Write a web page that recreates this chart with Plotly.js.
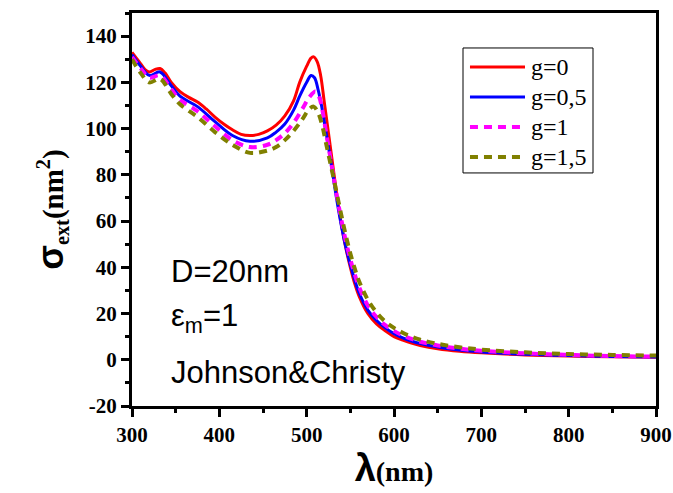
<!DOCTYPE html>
<html>
<head>
<meta charset="utf-8">
<script src="https://cdn.plot.ly/plotly-3.0.1.min.js"></script>
<style>html,body{margin:0;padding:0;background:#fff;}#chart{width:673px;height:493px;}</style>
</head>
<body>
<div id="chart"></div>
<script>
// Wavelengths (nm) and extinction cross sections (nm^2)
const lam0 = [300,305,310,315,320,326,332,338,345,355,365,375,385,395,405,415,425,435,445,455,465,475,485,492,500,505,508,512,516,520,525,530,535,540,545,550,555,560,570,580,590,600,610,620,630,650,675,700,750,800,850,900];
const g0   = [133,130.5,128,125.5,124.5,125.5,126,124,120,116,113.5,111.5,108.5,105,102,99.5,97.5,97,97.5,99,101.5,105.5,112,120,127,130.5,131,129,123,112,98,84,70,58,48,40,33,27.5,20,15.5,12.5,10,8.5,7.2,6.2,4.8,3.7,3,2.1,1.6,1.3,1.1];

const lam05 = [300,310,320,332,345,355,375,395,415,435,455,465,475,485,492,500,505,509,513,517,521,525,530,535,540,545,550,555,560,570,580,590,600,610,620,630,650,675,700,750,800,850,900];
const g05   = [132,127,123,124.5,118.5,114,109.5,103,97,94.5,96,98.5,102,108,114,120,123,122,117,110,101,92,80,68,57.5,48.5,41,34.5,29,21.5,17,13.8,11.3,9.5,8.1,7,5.5,4.2,3.4,2.4,1.8,1.4,1.2];

const lam1 = [300,310,320,332,345,355,375,395,415,435,455,465,475,485,495,503,510,514,518,522,526,530,535,540,545,550,555,560,570,580,590,600,610,620,630,650,675,700,750,800,850,900];
const g1   = [131,126,122,123,117,112.5,107.5,101,95,92,93,95,98,102.5,108.5,113.5,116,114,108,99,90,81,70,60,51,43.5,37,31.5,23.5,18.5,15,12.5,10.5,9,7.8,6.2,4.8,3.9,2.8,2.1,1.6,1.4];

const lam15 = [300,310,320,332,345,355,375,395,415,435,455,465,475,485,495,503,508,513,518,522,526,530,535,540,545,550,555,560,570,580,590,600,610,620,630,650,675,700,750,800,850,900];
const g15   = [130,124,120,121.5,115,110.5,105,98.5,93,89.5,90.5,92,95,99,104,108.5,109.5,107,101,94,87,80,71,62,53.5,46,39.5,34,26,20.5,16.5,13.8,11.7,10,8.7,6.9,5.4,4.4,3.2,2.5,2.1,1.8];

const names = ["g=0","g=0,5","g=1","g=1,5"];
const colors = ["#ff0000","#0000ff","#ff00ff","#808000"];

const xTicks = [300,400,500,600,700,800,900];
const yTicks = [-20,0,20,40,60,80,100,120,140];

const serif = "Liberation Serif";
const sans = "Liberation Sans";

const styles = [
  {color: colors[0], width: 3},
  {color: colors[1], width: 3},
  {color: colors[2], width: 4, dash: "8px,6px"},
  {color: colors[3], width: 4, dash: "8px,6px"}
];
const xs = [lam0, lam05, lam1, lam15];
const ys = [g0, g05, g1, g15];

const traces = xs.map((x, i) => ({
  x: x, y: ys[i], name: names[i], mode: "lines",
  line: Object.assign({shape: "spline"}, styles[i])
}));

// Legend drawn in paper coordinates (box, samples, labels)
const legRows = [0.8626, 0.7863, 0.7099, 0.6336];
const shapes = [
  {type: "rect", xref: "paper", yref: "paper", x0: 0.6317, x1: 0.8798, y0: 0.593, y1: 0.911,
   line: {color: "#000", width: 1}, fillcolor: "#fff", layer: "above"}
];
const annotations = [];
names.forEach((n, i) => {
  shapes.push({type: "line", xref: "paper", yref: "paper", x0: 0.645, x1: 0.750, y0: legRows[i], y1: legRows[i],
    line: {color: styles[i].color, width: styles[i].width, dash: styles[i].dash || "solid"}, layer: "above"});
  annotations.push({xref: "paper", yref: "paper", x: 0.757, y: legRows[i], xanchor: "left", yanchor: "middle",
    showarrow: false, text: n, font: {family: serif, size: 24, color: "#000"}});
});

annotations.push(
  {xref: "paper", yref: "paper", x: 0.07, y: 0.341, xanchor: "left", yanchor: "middle", showarrow: false, text: "D=20nm", font: {family: sans, size: 31, color: "#000"}},
  {xref: "paper", yref: "paper", x: 0.07, y: 0.224, xanchor: "left", yanchor: "middle", showarrow: false, text: "ε<sub>m</sub>=1", font: {family: sans, size: 31, color: "#000"}},
  {xref: "paper", yref: "paper", x: 0.07, y: 0.0865, xanchor: "left", yanchor: "middle", showarrow: false, text: "Johnson&Christy", font: {family: sans, size: 31, color: "#000"}}
);

const layout = {
  width: 673, height: 493,
  margin: {l: 132, r: 17, t: 13, b: 87},
  paper_bgcolor: "#fff", plot_bgcolor: "#fff",
  showlegend: false,
  xaxis: {
    range: [300, 900], tickvals: xTicks, ticktext: xTicks.map(v => "<b>" + v + "</b>"),
    showgrid: false, zeroline: false,
    showline: true, linecolor: "#000", linewidth: 3, mirror: true,
    ticks: "outside", ticklen: 8, tickwidth: 3, tickcolor: "#000",
    minor: {dtick: 50, ticks: "outside", ticklen: 4, tickwidth: 3, tickcolor: "#000", showgrid: false},
    tickfont: {family: serif, size: 21, color: "#000"},
    title: {text: "<b><span style=\"font-family:'Liberation Sans';font-size:38px\">λ</span>(nm)</b>", font: {family: serif, size: 28, color: "#000"}, standoff: 12}
  },
  yaxis: {
    range: [-20, 150], tickvals: yTicks, ticktext: yTicks.map(v => "<b>" + v + "</b>"),
    showgrid: false, zeroline: false,
    showline: true, linecolor: "#000", linewidth: 3, mirror: true,
    ticks: "outside", ticklen: 8, tickwidth: 3, tickcolor: "#000",
    minor: {dtick: 10, ticks: "outside", ticklen: 4, tickwidth: 3, tickcolor: "#000", showgrid: false},
    tickfont: {family: serif, size: 21, color: "#000"},
    title: {text: "<b><span style=\"font-family:'Liberation Sans';font-size:36px\">σ</span><sub>ext</sub>(nm<sup>2</sup>)</b>", font: {family: serif, size: 29, color: "#000"}, standoff: 14}
  },
  shapes: shapes,
  annotations: annotations
};

Plotly.newPlot("chart", traces, layout, {staticPlot: true, displayModeBar: false});
</script>
</body>
</html>
